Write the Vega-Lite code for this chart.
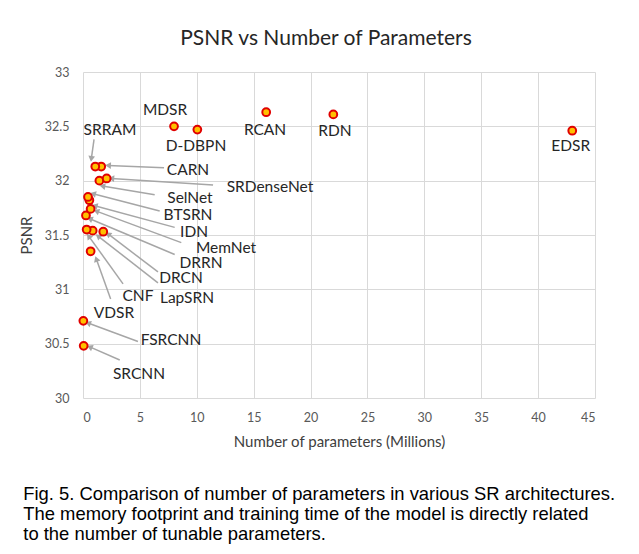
{
  "$schema": "https://vega.github.io/schema/vega-lite/v6.json",
  "background": "white",
  "padding": {"left": 19, "top": 28, "right": 10, "bottom": 5},
  "title": {
    "text": [
      "Fig. 5. Comparison of number of parameters in various SR architectures.",
      "The memory footprint and training time of the model is directly related",
      "to the number of tunable parameters."
    ],
    "orient": "bottom",
    "anchor": "start",
    "frame": "bounds",
    "font": "Liberation Sans",
    "fontSize": 18.4,
    "fontWeight": "normal",
    "color": "#000000",
    "lineHeight": 20,
    "offset": 35,
    "dx": 4
  },
  "datasets": {
    "models": [
      {"name": "SRCNN", "params": 0.06, "psnr": 30.48, "label_x": 4.92, "label_y": 30.22},
      {"name": "FSRCNN", "params": 0.03, "psnr": 30.71, "label_x": 7.73, "label_y": 30.53},
      {"name": "VDSR", "params": 0.67, "psnr": 31.35, "label_x": 2.72, "label_y": 30.78},
      {"name": "DRCN", "params": 1.78, "psnr": 31.53, "label_x": 8.61, "label_y": 31.1},
      {"name": "LapSRN", "params": 0.85, "psnr": 31.54, "label_x": 9.14, "label_y": 30.92},
      {"name": "CNF", "params": 0.32, "psnr": 31.55, "label_x": 4.83, "label_y": 30.94},
      {"name": "DRRN", "params": 0.26, "psnr": 31.68, "label_x": 10.37, "label_y": 31.24},
      {"name": "MemNet", "params": 0.67, "psnr": 31.74, "label_x": 12.57, "label_y": 31.38},
      {"name": "IDN", "params": 0.56, "psnr": 31.82, "label_x": 9.76, "label_y": 31.53},
      {"name": "BTSRN", "params": 0.44, "psnr": 31.85, "label_x": 9.23, "label_y": 31.68},
      {"name": "SelNet", "params": 1.44, "psnr": 32.0, "label_x": 9.4, "label_y": 31.84},
      {"name": "SRDenseNet", "params": 2.08, "psnr": 32.02, "label_x": 16.43, "label_y": 31.94},
      {"name": "CARN", "params": 1.6, "psnr": 32.13, "label_x": 9.23, "label_y": 32.1},
      {"name": "SRRAM", "params": 1.08, "psnr": 32.13, "label_x": 2.37, "label_y": 32.47},
      {"name": "MDSR", "params": 8.0, "psnr": 32.5, "label_x": 7.21, "label_y": 32.65},
      {"name": "D-DBPN", "params": 10.05, "psnr": 32.47, "label_x": 9.93, "label_y": 32.32},
      {"name": "RCAN", "params": 16.1, "psnr": 32.63, "label_x": 16.0, "label_y": 32.47},
      {"name": "RDN", "params": 22.0, "psnr": 32.61, "label_x": 22.15, "label_y": 32.46},
      {"name": "EDSR", "params": 43.0, "psnr": 32.46, "label_x": 42.86, "label_y": 32.32}
    ],
    "arrows": [
      {"name": "SRRAM", "from_x": 0.97, "from_y": 32.38, "to_x": 0.73, "to_y": 32.2},
      {"name": "CARN", "from_x": 7.12, "from_y": 32.12, "to_x": 2.2, "to_y": 32.14},
      {"name": "SRDenseNet", "from_x": 11.43, "from_y": 31.96, "to_x": 2.49, "to_y": 32.02},
      {"name": "SelNet", "from_x": 6.3, "from_y": 31.87, "to_x": 1.7, "to_y": 31.95},
      {"name": "BTSRN", "from_x": 6.74, "from_y": 31.72, "to_x": 0.88, "to_y": 31.88},
      {"name": "IDN", "from_x": 8.06, "from_y": 31.57, "to_x": 1.03, "to_y": 31.77},
      {"name": "MemNet", "from_x": 8.64, "from_y": 31.43, "to_x": 1.17, "to_y": 31.72},
      {"name": "DRRN", "from_x": 8.06, "from_y": 31.32, "to_x": 0.59, "to_y": 31.65},
      {"name": "DRCN", "from_x": 6.59, "from_y": 31.16, "to_x": 2.2, "to_y": 31.51},
      {"name": "LapSRN", "from_x": 6.59, "from_y": 31.06, "to_x": 1.32, "to_y": 31.49},
      {"name": "CNF", "from_x": 3.52, "from_y": 31.05, "to_x": 0.5, "to_y": 31.49},
      {"name": "VDSR", "from_x": 2.43, "from_y": 30.91, "to_x": 1.17, "to_y": 31.28},
      {"name": "FSRCNN", "from_x": 4.83, "from_y": 30.52, "to_x": 0.44, "to_y": 30.69},
      {"name": "SRCNN", "from_x": 3.23, "from_y": 30.35, "to_x": 0.59, "to_y": 30.47}
    ]
  },
  "vconcat": [
    {
      "width": 512,
      "height": 326,
      "title": {
        "text": "PSNR vs Number of Parameters",
        "font": "Lato",
        "fontSize": 21,
        "fontWeight": "normal",
        "color": "#262626",
        "anchor": "middle",
        "offset": 17,
        "dx": -13
      },
      "layer": [
        {
          "data": {"name": "arrows"},
          "mark": {"type": "rule", "color": "#a6a6a6", "strokeWidth": 1.5},
          "encoding": {
            "x": {"field": "from_x", "type": "quantitative", "scale": {"domain": [0, 45], "nice": false},
              "axis": {"values": [0, 5, 10, 15, 20, 25, 30, 35, 40, 45], "title": "Number of parameters (Millions)"}},
            "y": {"field": "from_y", "type": "quantitative", "scale": {"domain": [30, 33], "nice": false, "zero": false},
              "axis": {"values": [30, 30.5, 31, 31.5, 32, 32.5, 33], "format": "~f", "title": "PSNR"}},
            "x2": {"field": "to_x"},
            "y2": {"field": "to_y"}
          }
        },
        {
          "data": {"name": "arrows"},
          "transform": [
            {"calculate": "atan2((datum.to_x - datum.from_x) * 11.378, (datum.to_y - datum.from_y) * 108.67) * 180 / PI", "as": "heading"}
          ],
          "mark": {"type": "point", "shape": "triangle-up", "filled": true, "color": "#a6a6a6", "size": 45, "opacity": 1},
          "encoding": {
            "x": {"field": "to_x", "type": "quantitative"},
            "y": {"field": "to_y", "type": "quantitative"},
            "angle": {"field": "heading", "type": "quantitative", "scale": null}
          }
        },
        {
          "data": {"name": "models"},
          "mark": {"type": "point", "shape": "circle", "filled": true, "fill": "#FFC000", "stroke": "#E00000", "strokeWidth": 2, "size": 60, "opacity": 1},
          "encoding": {
            "x": {"field": "params", "type": "quantitative"},
            "y": {"field": "psnr", "type": "quantitative"}
          }
        },
        {
          "data": {"name": "models"},
          "mark": {"type": "text", "font": "Lato", "fontSize": 15.5, "color": "#262626", "align": "center", "baseline": "middle"},
          "encoding": {
            "x": {"field": "label_x", "type": "quantitative"},
            "y": {"field": "label_y", "type": "quantitative"},
            "text": {"field": "name"}
          }
        }
      ]
    }
  ],
  "config": {
    "view": {"stroke": null},
    "axis": {
      "grid": true,
      "gridColor": "#d9d9d9",
      "gridWidth": 1,
      "domain": false,
      "ticks": false,
      "labelFont": "Lato",
      "labelFontSize": 12.5,
      "labelColor": "#595959",
      "titleFont": "Lato",
      "titleFontSize": 15,
      "titleFontWeight": "normal",
      "titleColor": "#404040"
    },
    "axisX": {"labelPadding": 13, "titlePadding": 11},
    "axisY": {"labelPadding": 14, "titlePadding": 10}
  }
}
